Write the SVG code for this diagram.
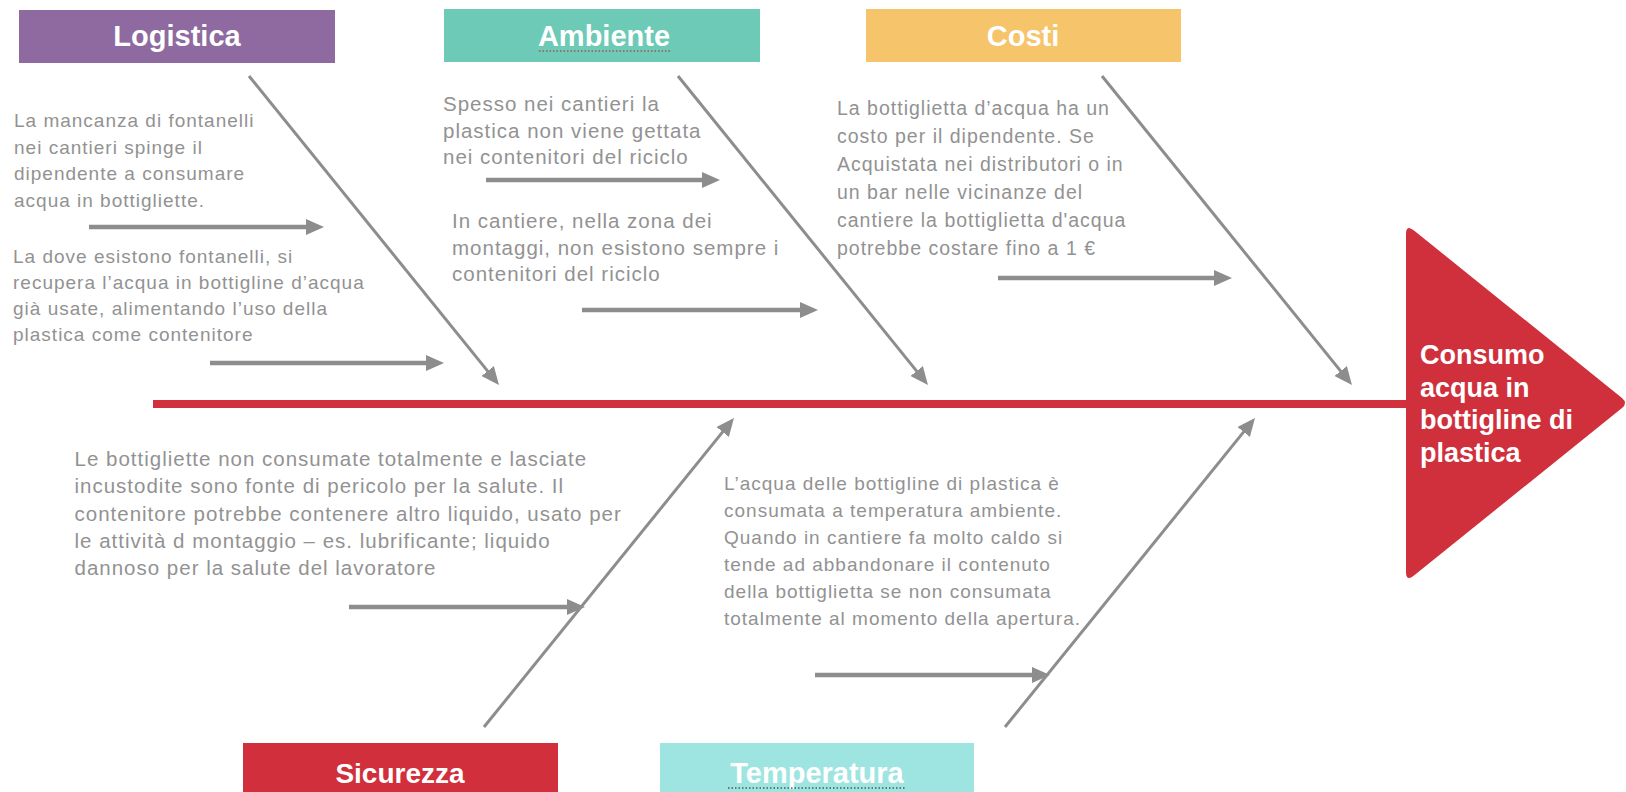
<svg xmlns="http://www.w3.org/2000/svg" width="1626" height="792" viewBox="0 0 1626 792">
<style>
.hdr{font-family:"Liberation Sans",Arial,sans-serif;font-weight:bold;font-size:29px;fill:#ffffff;text-anchor:middle}
.txt{font-family:"Liberation Sans",Arial,sans-serif;font-size:19px;letter-spacing:1px;fill:#929292}
.amb{font-size:20.5px}
.cos{font-size:19.5px}
.sic{font-size:20.5px}
.eff{font-family:"Liberation Sans",Arial,sans-serif;font-weight:bold;font-size:27px;fill:#ffffff}
.bone{stroke:#8d8d8d;stroke-width:3;fill:none}
.sub{stroke:#8d8d8d;stroke-width:4.5;fill:none}
.dot{stroke-width:1.5;stroke-dasharray:1.5 2;fill:none}
</style>
<defs>
<marker id="arr" viewBox="0 0 18 16" markerWidth="18" markerHeight="16" refX="2" refY="8" orient="auto" markerUnits="userSpaceOnUse">
<path d="M0,0 L18,8 L0,16 Z" fill="#8d8d8d"/>
</marker>
</defs>
<rect width="1626" height="792" fill="#ffffff"/>

<g id="spine">
<rect x="153" y="400" width="1256" height="8" fill="#d1303d"/>
</g>

<g id="effect">
<path d="M1406,234 Q1406,224 1414,230.5 L1622,398 Q1628,403 1622,408 L1414,575.5 Q1406,582 1406,572 Z" fill="#d0303c"/>
<text class="eff" x="1420" y="364">Consumo</text>
<text class="eff" x="1420" y="396.5">acqua in</text>
<text class="eff" x="1420" y="429">bottigline di</text>
<text class="eff" x="1420" y="461.5">plastica</text>
</g>

<g id="logistica">
<rect x="19" y="10" width="316" height="53" fill="#8e6aa0"/>
<text class="hdr" x="177" y="46">Logistica</text>
</g>
<g id="ambiente">
<rect x="444" y="9" width="316" height="53" fill="#6dcab6"/>
<text class="hdr" x="604" y="46">Ambiente</text>
<line class="dot" x1="539" y1="51" x2="671" y2="51" stroke="#a0584a"/>
</g>
<g id="costi">
<rect x="866" y="9" width="315" height="53" fill="#f5c46b"/>
<text class="hdr" x="1023" y="46">Costi</text>
</g>
<g id="sicurezza">
<rect x="243" y="743" width="315" height="54" fill="#d02f3b"/>
<text class="hdr" x="400" y="783" style="font-size:28px">Sicurezza</text>
</g>
<g id="temperatura">
<rect x="660" y="743" width="314" height="54" fill="#9ee5e1"/>
<text class="hdr" x="817" y="783">Temperatura</text>
<line class="dot" x1="728" y1="788" x2="906" y2="788" stroke="#555555"/>
</g>

<g id="cause-logistica-1">
<text class="txt" x="14" y="127">La mancanza di fontanelli</text>
<text class="txt" x="14" y="153.5">nei cantieri spinge il</text>
<text class="txt" x="14" y="180">dipendente a consumare</text>
<text class="txt" x="14" y="206.5">acqua in bottigliette.</text>
</g>
<g id="cause-logistica-2">
<text class="txt" x="13" y="263">La dove esistono fontanelli, si</text>
<text class="txt" x="13" y="289">recupera l’acqua in bottigline d’acqua</text>
<text class="txt" x="13" y="315">già usate, alimentando l’uso della</text>
<text class="txt" x="13" y="341">plastica come contenitore</text>
</g>
<g id="cause-ambiente-1">
<text class="txt amb" x="443" y="111">Spesso nei cantieri la</text>
<text class="txt amb" x="443" y="137.5">plastica non viene gettata</text>
<text class="txt amb" x="443" y="164">nei contenitori del riciclo</text>
</g>
<g id="cause-ambiente-2">
<text class="txt amb" x="452" y="228">In cantiere, nella zona dei</text>
<text class="txt amb" x="452" y="254.5">montaggi, non esistono sempre i</text>
<text class="txt amb" x="452" y="281">contenitori del riciclo</text>
</g>
<g id="cause-costi">
<text class="txt cos" x="837" y="115">La bottiglietta d’acqua ha un</text>
<text class="txt cos" x="837" y="143">costo per il dipendente. Se</text>
<text class="txt cos" x="837" y="171">Acquistata nei distributori o in</text>
<text class="txt cos" x="837" y="199">un bar nelle vicinanze del</text>
<text class="txt cos" x="837" y="227">cantiere la bottiglietta d'acqua</text>
<text class="txt cos" x="837" y="255">potrebbe costare fino a 1 €</text>
</g>
<g id="cause-sicurezza">
<text class="txt sic" x="74.5" y="466">Le bottigliette non consumate totalmente e lasciate</text>
<text class="txt sic" x="74.5" y="493.3">incustodite sono fonte di pericolo per la salute. Il</text>
<text class="txt sic" x="74.5" y="520.5">contenitore potrebbe contenere altro liquido, usato per</text>
<text class="txt sic" x="74.5" y="547.8">le attività d montaggio – es. lubrificante; liquido</text>
<text class="txt sic" x="74.5" y="575">dannoso per la salute del lavoratore</text>
</g>
<g id="cause-temperatura">
<text class="txt" x="724" y="490">L’acqua delle bottigline di plastica è</text>
<text class="txt" x="724" y="517">consumata a temperatura ambiente.</text>
<text class="txt" x="724" y="544">Quando in cantiere fa molto caldo si</text>
<text class="txt" x="724" y="571">tende ad abbandonare il contenuto</text>
<text class="txt" x="724" y="598">della bottiglietta se non consumata</text>
<text class="txt" x="724" y="625">totalmente al momento della apertura.</text>
</g>

<g id="connectors">
<line class="bone" x1="249" y1="76" x2="488.9" y2="372.6" marker-end="url(#arr)"/>
<line class="bone" x1="678" y1="76" x2="917.9" y2="372.6" marker-end="url(#arr)"/>
<line class="bone" x1="1102" y1="76" x2="1341.9" y2="372.6" marker-end="url(#arr)"/>
<line class="bone" x1="484" y1="727" x2="723.9" y2="430.4" marker-end="url(#arr)"/>
<line class="bone" x1="1005" y1="727" x2="1244.9" y2="430.4" marker-end="url(#arr)"/>
<line class="sub" x1="89" y1="227" x2="308" y2="227" marker-end="url(#arr)"/>
<line class="sub" x1="210" y1="363" x2="428" y2="363" marker-end="url(#arr)"/>
<line class="sub" x1="486" y1="180" x2="704" y2="180" marker-end="url(#arr)"/>
<line class="sub" x1="582" y1="310" x2="802" y2="310" marker-end="url(#arr)"/>
<line class="sub" x1="998" y1="278" x2="1216" y2="278" marker-end="url(#arr)"/>
<line class="sub" x1="349" y1="607" x2="569" y2="607" marker-end="url(#arr)"/>
<line class="sub" x1="815" y1="675" x2="1034" y2="675" marker-end="url(#arr)"/>
</g>
</svg>
